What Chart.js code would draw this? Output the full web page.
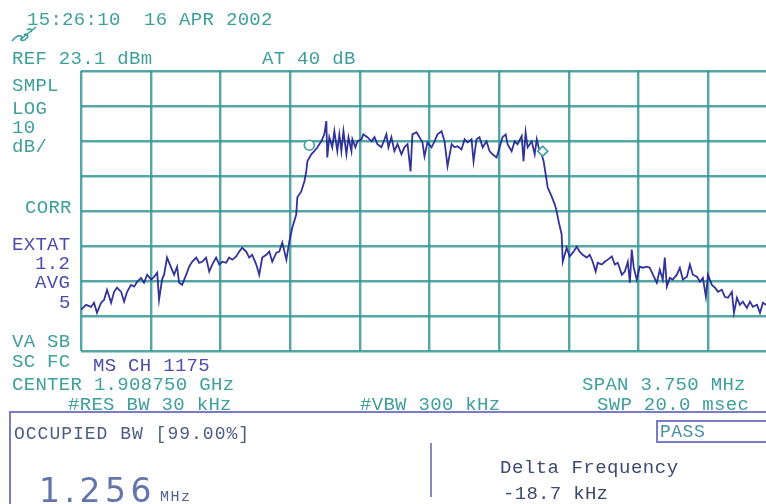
<!DOCTYPE html>
<html>
<head>
<meta charset="utf-8">
<script src="https://cdn.jsdelivr.net/npm/chart.js@4/dist/chart.umd.min.js"></script>
<style>
  html, body { margin: 0; padding: 0; background: #ffffff; overflow: hidden; }
  #screen { position: absolute; left: 0; top: 0; width: 800px; height: 504px; }
  #plot { position: absolute; left: 0; top: 0; }
  .lbl {
    position: absolute; white-space: pre; line-height: 20px; height: 20px;
    font-family: "Liberation Mono", "DejaVu Sans Mono", monospace;
    font-size: 19px; letter-spacing: 0.3px; color: #3f9f9c;
  }
  .blue { color: #4c4cac; }
  .box { position: absolute; border-color: #7b7bc6; border-style: solid; border-width: 0; }
</style>
</head>
<body>
<div id="screen">
  <canvas id="plot" width="800" height="504"></canvas>
  <svg style="position:absolute;left:0;top:0" width="60" height="60">
    <path d="M12 41 C16 36 20 34 22 37 C19 41 23 42 27 38 C29 35 26 33 24 35 M20 40 C25 36 31 31 36 27 M27 30 C30 28 33 29 31 32"
          fill="none" stroke="#3f9f9c" stroke-width="1.6"/>
  </svg>
  <div class="box" style="left:9px;top:411px;width:800px;height:110px;border-top-width:2px;border-left-width:2px;"></div>
  <div class="box" style="left:656px;top:420px;width:140px;height:19px;border-top-width:2px;border-left-width:2px;border-bottom-width:2px;"></div>
  <div class="box" style="left:430px;top:443px;width:0;height:54px;border-left-width:2px;border-color:#8a8ab8;"></div>
</div>
<script>
// Instrument settings
const refLevelDbm = 23.1;
const dbPerDiv = 10;
const vertDivs = 8;
const horzDivs = 10;
const centerGHz = 1.908750;
const spanMHz = 3.750;
const attenDb = 40;
const resBwKHz = 30;
const videoBwKHz = 300;
const sweepMs = 20.0;
const channelNo = 1175;
const occupiedPct = 99.00;
const occupiedBwMHz = 1.256;
const deltaFreqKHz = -18.7;

// Sweep trace: frequency offset from center (kHz) and measured level (dBm)
const freqOffsetKHz = [
  -1875,-1848,-1821,-1805,-1789,-1767,-1751,-1735,-1713,-1697,-1681,-1659,-1643,-1627,-1606,-1589,
  -1573,-1552,-1536,-1519,-1498,-1482,-1465,-1455,-1439,-1428,-1412,-1390,-1374,-1358,-1347,-1331,
  -1309,-1293,-1277,-1255,-1239,-1223,-1202,-1185,-1169,-1148,-1131,-1115,-1094,-1078,-1061,-1040,
  -1024,-1008,-986,-970,-954,-932,-916,-900,-878,-862,-846,-824,-808,-792,-770,
  -754,-738,-717,-711,-690,-673,-663,-657,-636,-620,-603,-582,-566,-555,-550,-539,-523,-512,-496,
  -485,-474,-463,-447,-436,-420,-415,-399,-388,-366,-356,-334,-312,-296,-280,-259,-242,-232,-221,
  -205,-189,-172,-151,-135,-118,-102,-92,-70,-54,
  -38,-27,-11,11,27,43,65,81,97,119,135,151,172,189,205,226,237,253,269,286,307,323,339,361,377,393,
  410,420,442,458,474,496,506,517,528,550,566,577,587,603,614,625,636,657,674,684,695,711,717,738,
  754,771,792,808,824,846,862,878,894,905,927,943,959,981,997,1013,1035,1051,1067,1078,1088,1099,
  1115,1131,1148,1169,1185,1202,1223,1239,1255,1266,1277,1293,1309,1331,1347,1363,1385,1401,1417,
  1439,1455,1471,1487,1498,1519,1536,1552,1573,1589,1606,1627,1638,1654,1670,1686,1708,1724,1740,
  1762,1778,1794,1810,1843,1875
];
const levelDbm = [
  -45.1,-43.7,-44.3,-43.1,-46.0,-43.1,-42.3,-39.4,-43.1,-40.0,-38.8,-40.0,-42.8,-40.0,-38.0,-38.5,
  -37.1,-36.0,-37.4,-35.1,-36.5,-35.7,-34.5,-42.3,-36.5,-35.1,-30.2,-33.1,-35.1,-32.8,-37.4,-38.0,
  -35.1,-32.8,-31.4,-30.2,-31.7,-31.4,-30.2,-34.2,-32.2,-30.2,-32.2,-31.4,-31.7,-30.2,-30.8,-29.9,
  -28.5,-27.4,-28.5,-30.2,-29.4,-32.2,-35.1,-30.2,-29.4,-28.5,-31.4,-28.8,-28.5,-25.9,-30.8,
  -25.6,-21.6,-17.9,-13.0,-11.3,-8.4,-5.6,-2.7,-0.7,0.2,1.3,3.0,5.0,8.8,-1.6,4.2,1.3,5.9,0.2,
  5.0,0.2,5.9,-0.7,4.2,0.2,3.6,1.3,3.0,3.6,5.0,4.2,3.0,4.2,2.2,1.3,3.6,5.0,1.3,
  4.2,0.2,2.2,-0.7,1.3,2.2,-5.6,5.0,5.6,4.2,
  2.7,-1.3,2.7,1.3,3.0,5.0,5.9,3.0,-4.1,2.2,1.3,1.6,0.7,3.6,2.7,3.6,-2.7,3.6,4.2,1.3,3.0,0.2,-0.7,-1.6,1.3,4.2,
  5.0,2.2,0.2,3.0,2.2,4.5,-2.7,5.6,1.3,3.0,-0.7,3.6,1.3,-0.7,-2.7,-6.4,-10.2,-12.7,-15.0,-17.0,-19.9,-23.6,-31.4,-27.4,
  -29.9,-28.8,-27.1,-28.5,-29.4,-30.2,-29.4,-31.4,-34.2,-31.7,-32.2,-31.4,-30.8,-29.9,-32.2,-31.7,-35.1,-34.2,-31.4,-37.4,-27.9,-33.1,
  -36.5,-32.8,-33.1,-32.8,-33.1,-35.1,-37.4,-33.7,-36.5,-30.2,-38.5,-36.0,-36.5,-35.1,-33.1,-36.5,-35.7,-32.2,-35.1,
  -35.7,-37.1,-36.0,-41.4,-35.1,-38.0,-38.8,-40.0,-39.4,-41.4,-41.7,-40.0,-46.0,-41.7,-43.7,-42.8,-44.6,-42.8,-44.3,
  -43.7,-46.0,-43.1,-43.7,-44.3,-45.1
];

// Occupied bandwidth edge markers (levels where they sit on the trace)
const markerLevelDbm = [1.9, 0.2];
const markerStyles = ['circle', 'rectRot'];

const TEAL = '#3f9f9c';
const GRID = 'rgba(55,152,149,0.85)';
const TRACE = 'rgba(34,34,146,0.92)';

const halfSpanKHz = spanMHz * 1000 / 2;
const kHzPerDiv = spanMHz * 1000 / horzDivs;
const bottomDbm = refLevelDbm - dbPerDiv * vertDivs;

const tracePoints = freqOffsetKHz.map((f, i) => ({ x: f, y: levelDbm[i] }));
const obwCenter = deltaFreqKHz;
const markerFreqs = [obwCenter - occupiedBwMHz * 500, obwCenter + occupiedBwMHz * 500];
const markerPoints = markerFreqs.map((f, i) => ({ x: f, y: markerLevelDbm[i] }));

new Chart(document.getElementById('plot'), {
  type: 'line',
  data: {
    datasets: [
      {
        data: markerPoints,
        showLine: false,
        pointStyle: markerStyles,
        pointRadius: 5,
        pointBorderWidth: 1.6,
        pointBorderColor: TEAL,
        pointBackgroundColor: '#ffffff'
      },
      {
        data: tracePoints,
        borderColor: TRACE,
        borderWidth: 1.8,
        pointRadius: 0,
        tension: 0,
        fill: false
      }
    ]
  },
  options: {
    responsive: false,
    animation: false,
    devicePixelRatio: 1,
    events: [],
    layout: { padding: { left: 81, top: 71, right: 22, bottom: 153 } },
    plugins: { legend: { display: false }, tooltip: { enabled: false } },
    scales: {
      x: {
        type: 'linear',
        min: -halfSpanKHz,
        max: halfSpanKHz,
        afterBuildTicks: s => { s.ticks = Array.from({ length: horzDivs + 1 }, (_, i) => ({ value: -halfSpanKHz + i * kHzPerDiv })); },
        ticks: { display: false },
        border: { display: false },
        grid: { color: GRID, lineWidth: 2.4, drawTicks: false }
      },
      y: {
        type: 'linear',
        min: bottomDbm,
        max: refLevelDbm,
        afterBuildTicks: s => { s.ticks = Array.from({ length: vertDivs + 1 }, (_, i) => ({ value: refLevelDbm - i * dbPerDiv })); },
        ticks: { display: false },
        border: { display: false },
        grid: { color: GRID, lineWidth: 2.4, drawTicks: false }
      }
    }
  }
});

// Annotation text around the display
const screen = document.getElementById('screen');
function label(text, x, y, cls, extra) {
  const d = document.createElement('div');
  d.className = 'lbl' + (cls ? ' ' + cls : '');
  d.textContent = text;
  d.style.left = x + 'px';
  d.style.top = (y - 10) + 'px';
  if (extra) Object.assign(d.style, extra);
  screen.appendChild(d);
  return d;
}

label('15:26:10  16 APR 2002', 27, 20);
label('REF ' + refLevelDbm.toFixed(1) + ' dBm', 12, 59);
label('AT ' + attenDb + ' dB', 262, 59);
label('SMPL', 12, 86);
label('LOG', 12, 109);
label(String(dbPerDiv), 12, 128);
label('dB/', 12, 147);
label('CORR', 25, 208);
label('EXTAT', 12, 245, 'blue');
label('1.2', 35, 264, 'blue');
label('AVG', 35, 283, 'blue');
label('5', 59, 303, 'blue');
label('VA SB', 12, 342);
label('SC FC', 12, 362);
label('MS CH ' + channelNo, 93, 366, 'blue');
label('CENTER ' + centerGHz.toFixed(6) + ' GHz', 12, 385);
label('SPAN ' + spanMHz.toFixed(3) + ' MHz', 582, 385);
label('#RES BW ' + resBwKHz + ' kHz', 68, 405);
label('#VBW ' + videoBwKHz + ' kHz', 360, 405);
label('SWP ' + sweepMs.toFixed(1) + ' msec', 597, 405);

label('OCCUPIED BW [' + occupiedPct.toFixed(2) + '%]', 14, 434, null, { color: '#4d5d86', fontSize: '18px', letterSpacing: '1px' });
label('PASS', 660, 432, null, { color: '#4a8fa6', fontSize: '18px', letterSpacing: '0.5px' });
label('Delta Frequency', 500, 468, null, { color: '#3f4a72', fontSize: '19px', letterSpacing: '0.5px' });
label(deltaFreqKHz.toFixed(1) + ' kHz', 503, 494, null, { color: '#3f4a72', fontSize: '19px', letterSpacing: '0.3px' });
label(occupiedBwMHz.toFixed(3), 39, 491, null, {
  fontFamily: '"DejaVu Sans", sans-serif', fontSize: '33px', lineHeight: '34px', height: '34px',
  top: '474px', letterSpacing: '4.5px', color: '#6475aa'
});
label('MHz', 160, 498, null, { color: '#5060a0', fontSize: '15px', letterSpacing: '1.5px' });
</script>
</body>
</html>
